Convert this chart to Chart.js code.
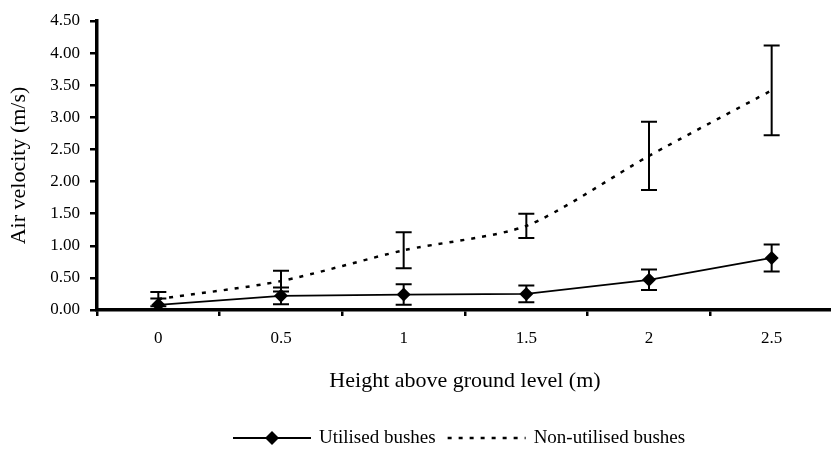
<!DOCTYPE html>
<html>
<head>
    <title>Air velocity</title>
    <script src="https://cdn.jsdelivr.net/npm/chart.js"></script>
    <style>
        html, body { margin: 0; padding: 0; background: #fff; overflow: hidden; }
        canvas { display: block; }
    </style>
</head>
<body>
<canvas id="velChart" width="840" height="455"></canvas>

<script>
    // data
    const heights = ['0', '0.5', '1', '1.5', '2', '2.5'];
    const utilised = [0.08, 0.22, 0.24, 0.25, 0.47, 0.81];
    const utilisedErr = [0.10, 0.13, 0.16, 0.13, 0.16, 0.21];
    const nonUtilised = [0.17, 0.45, 0.93, 1.31, 2.40, 3.42];
    const nonUtilisedErr = [0.11, 0.16, 0.28, 0.19, 0.53, 0.70];
    const yTicks = [0, 0.5, 1, 1.5, 2, 2.5, 3, 3.5, 4, 4.5];

    const serif = '"Liberation Serif", "Times New Roman", serif';

    // vertical error bars with caps
    const errorBars = {
        id: 'errorBars',
        afterDatasetsDraw(chart) {
            const ctx = chart.ctx;
            const y = chart.scales.y;
            ctx.save();
            ctx.strokeStyle = '#000';
            ctx.lineWidth = 2;
            chart.data.datasets.forEach((ds, i) => {
                const meta = chart.getDatasetMeta(i);
                meta.data.forEach((pt, j) => {
                    const v = ds.data[j], e = ds.errors[j];
                    const top = y.getPixelForValue(v + e);
                    const bot = y.getPixelForValue(Math.max(0, v - e));
                    ctx.beginPath();
                    ctx.moveTo(pt.x, top); ctx.lineTo(pt.x, bot);
                    ctx.moveTo(pt.x - 8, top); ctx.lineTo(pt.x + 8, top);
                    ctx.moveTo(pt.x - 8, bot); ctx.lineTo(pt.x + 8, bot);
                    ctx.stroke();
                });
            });
            ctx.restore();
        }
    };

    // legend as in the figure: line sample with marker, then label
    const lineLegend = {
        id: 'lineLegend',
        afterDraw(chart) {
            const ctx = chart.ctx;
            const ly = 438;
            ctx.save();
            ctx.font = '19px ' + serif;
            ctx.textBaseline = 'middle';
            const items = chart.data.datasets.map(ds => ({ ds, w: ctx.measureText(ds.label).width }));
            const sample = 78, gapText = 8, gapItem = 12;
            let x = 233;
            items.forEach((it, k) => {
                if (k) x += gapItem;
                const ds = it.ds;
                ctx.strokeStyle = '#000';
                ctx.lineWidth = ds.borderWidth;
                ctx.setLineDash(ds.borderDash || []);
                ctx.beginPath();
                ctx.moveTo(x, ly); ctx.lineTo(x + sample, ly);
                ctx.stroke();
                ctx.setLineDash([]);
                if (ds.pointRadius > 0) {
                    const cx = x + sample / 2, r = ds.pointRadius;
                    ctx.fillStyle = '#000';
                    ctx.beginPath();
                    ctx.moveTo(cx, ly - r); ctx.lineTo(cx + r, ly);
                    ctx.lineTo(cx, ly + r); ctx.lineTo(cx - r, ly);
                    ctx.closePath();
                    ctx.fill();
                }
                x += sample + gapText;
                ctx.fillStyle = '#000';
                ctx.fillText(ds.label, x, ly);
                x += it.w;
            });
            ctx.restore();
        }
    };

    const ctx = document.getElementById('velChart').getContext('2d');
    new Chart(ctx, {
        type: 'line',
        data: {
            labels: heights,
            datasets: [{
                label: 'Utilised bushes',
                data: utilised,
                errors: utilisedErr,
                borderColor: '#000',
                backgroundColor: '#000',
                borderWidth: 1.8,
                pointStyle: 'rectRot',
                pointRadius: 7,
                pointBorderWidth: 0,
                tension: 0
            }, {
                label: 'Non-utilised bushes',
                data: nonUtilised,
                errors: nonUtilisedErr,
                borderColor: '#000',
                backgroundColor: '#000',
                borderWidth: 2.5,
                borderDash: [4, 7],
                pointRadius: 0,
                tension: 0.25
            }]
        },
        options: {
            responsive: false,
            animation: false,
            layout: { padding: { left: 0, right: 4, top: 21, bottom: 60 } },
            plugins: {
                legend: { display: false },
                tooltip: { enabled: false }
            },
            scales: {
                x: {
                    offset: true,
                    grid: {
                        offset: true,
                        drawOnChartArea: false,
                        color: '#000',
                        lineWidth: 2.5,
                        tickLength: 6
                    },
                    border: { color: '#000', width: 3.5 },
                    ticks: { color: '#000', font: { family: serif, size: 17 }, padding: 12 },
                    title: {
                        display: true,
                        text: 'Height above ground level (m)',
                        color: '#000',
                        font: { family: serif, size: 22 },
                        padding: { top: 0, bottom: 1 }
                    },
                    afterFit(scale) { scale.height = 85; }
                },
                y: {
                    min: 0,
                    max: 4.5,
                    afterBuildTicks(scale) { scale.ticks = yTicks.map(v => ({ value: v })); },
                    grid: {
                        drawOnChartArea: false,
                        color: '#000',
                        lineWidth: 2.5,
                        tickLength: 7
                    },
                    border: { color: '#000', width: 3.5 },
                    ticks: {
                        color: '#000',
                        font: { family: serif, size: 17 },
                        padding: 10,
                        callback: v => Number(v).toFixed(2)
                    },
                    title: {
                        display: true,
                        text: 'Air velocity (m/s)',
                        color: '#000',
                        font: { family: serif, size: 22 },
                        padding: { top: 6, bottom: 0 }
                    },
                    afterFit(scale) { scale.width = 97; }
                }
            }
        },
        plugins: [errorBars, lineLegend]
    });
</script>
</body>
</html>
